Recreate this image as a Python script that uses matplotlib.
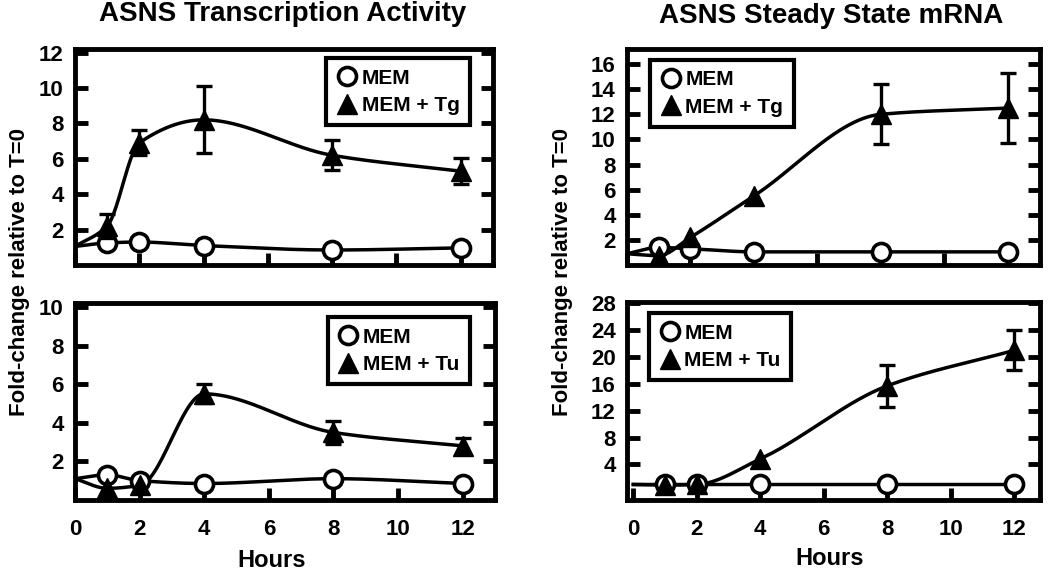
import numpy as np
import matplotlib.pyplot as plt
from matplotlib.lines import Line2D

plt.rcParams['font.family'] = ['Liberation Sans', 'DejaVu Sans']
plt.rcParams['font.weight'] = 'bold'

hours = [0, 1, 2, 4, 8, 12]

# transcription activity, Tg
tx_mem_tg = [1.05, 1.25, 1.3, 1.1, 0.85, 0.97]
tx_tg = [1.05, 2.2, 6.9, 8.2, 6.2, 5.3]
tx_tg_err = [0, 0.7, 0.7, 1.9, 0.85, 0.75]

# transcription activity, Tu
tx_mem_tu = [1.1, 1.3, 1.0, 0.85, 1.1, 0.85]
tx_tu = [1.1, 0.6, 0.75, 5.5, 3.5, 2.8]
tx_tu_err = [0, 0, 0, 0.5, 0.6, 0.4]

# steady-state mRNA, Tg
mr_mem_tg = [0.9, 1.4, 1.3, 1.05, 1.05, 1.05]
mr_tg = [0.9, 0.75, 2.2, 5.5, 12.0, 12.5]
mr_tg_err = [0, 0, 0, 0, 2.4, 2.8]

# steady-state mRNA, Tu
mr_mem_tu = [1.0, 1.0, 1.0, 1.0, 1.0, 1.0]
mr_tu = [1.0, 0.9, 1.0, 4.8, 15.7, 21.0]
mr_tu_err = [0, 0, 0, 0, 3.1, 3.0]


def pchip(x, y, n=300):
    # monotone cubic (Fritsch-Carlson) for the smooth connecting line
    x = np.asarray(x, float)
    y = np.asarray(y, float)
    h = np.diff(x)
    d = np.diff(y) / h
    m = np.zeros_like(y)
    for i in range(1, len(x) - 1):
        if d[i - 1] * d[i] > 0:
            w1 = 2 * h[i] + h[i - 1]
            w2 = h[i] + 2 * h[i - 1]
            m[i] = (w1 + w2) / (w1 / d[i - 1] + w2 / d[i])
    m[0] = d[0]
    m[-1] = d[-1]
    xs = np.linspace(x[0], x[-1], n)
    idx = np.clip(np.searchsorted(x, xs) - 1, 0, len(x) - 2)
    hh = h[idx]
    t = (xs - x[idx]) / hh
    h00 = 2 * t**3 - 3 * t**2 + 1
    h10 = t**3 - 2 * t**2 + t
    h01 = -2 * t**3 + 3 * t**2
    h11 = t**3 - t**2
    ys = h00 * y[idx] + h10 * hh * m[idx] + h01 * y[idx + 1] + h11 * hh * m[idx + 1]
    return xs, ys


def panel(ax, mem, trt, err, label, xlim, ylim, yticks, legend_loc, anchor, xlabels):
    for ser in (mem, trt):
        xs, ys = pchip(hours, ser)
        ax.plot(xs, ys, color='black', lw=2.5, zorder=2)
    ax.plot(hours[1:], mem[1:], 'o', ms=13, mfc='white', mec='black', mew=2.6,
            ls='none', zorder=3)
    e = np.array(err[1:])
    ax.errorbar(hours[1:], trt[1:], yerr=np.where(e > 0, e, np.nan), fmt='^', ms=14,
                color='black', ecolor='black', elinewidth=2.4, capsize=6,
                capthick=2.4, zorder=4)
    ax.set_xlim(*xlim)
    ax.set_ylim(*ylim)
    ax.set_xticks(range(0, 13, 2))
    ax.set_yticks(yticks)
    ax.tick_params(direction='in', length=9, width=3.5, labelsize=16,
                   left=True, right=True, top=False, bottom=True)
    ax.tick_params(axis='x', pad=14)
    ax.tick_params(axis='y', pad=8)
    if not xlabels:
        ax.tick_params(labelbottom=False)
    for s in ax.spines.values():
        s.set_linewidth(3.5)
    handles = [
        Line2D([], [], marker='o', ls='none', ms=13, mfc='white', mec='black', mew=2.6),
        Line2D([], [], marker='^', ls='none', ms=14, color='black'),
    ]
    leg = ax.legend(handles, ['MEM', label], loc=legend_loc, bbox_to_anchor=anchor,
                    fontsize=15, frameon=True, fancybox=False, framealpha=1,
                    handletextpad=0.2, handlelength=1.0, borderpad=0.5,
                    labelspacing=0.4, borderaxespad=0)
    leg.get_frame().set_edgecolor('black')
    leg.get_frame().set_linewidth(3)


fig = plt.figure(figsize=(10.5, 5.7), dpi=100)
ax_tl = fig.add_axes([0.0714, 0.535, 0.398, 0.379])
ax_bl = fig.add_axes([0.0714, 0.123, 0.400, 0.345])
ax_tr = fig.add_axes([0.597, 0.535, 0.393, 0.379])
ax_br = fig.add_axes([0.597, 0.123, 0.393, 0.347])

panel(ax_tl, tx_mem_tg, tx_tg, tx_tg_err, 'MEM + Tg', (0, 13), (0, 12.2),
      range(2, 13, 2), 'upper right', (0.945, 0.958), False)
panel(ax_bl, tx_mem_tu, tx_tu, tx_tu_err, 'MEM + Tu', (0, 13), (0, 10.2),
      range(2, 11, 2), 'upper right', (0.940, 0.929), True)
panel(ax_tr, mr_mem_tg, mr_tg, mr_tg_err, 'MEM + Tg', (0, 13), (0, 17.2),
      range(2, 17, 2), 'upper left', (0.056, 0.949), False)
panel(ax_br, mr_mem_tu, mr_tu, mr_tu_err, 'MEM + Tu', (-0.2, 12.8), (-1.3, 28.2),
      range(4, 29, 4), 'upper left', (0.053, 0.944), True)

fig.text(0.269, 0.976, 'ASNS Transcription Activity', ha='center', va='center',
         fontsize=20, fontweight='bold')
fig.text(0.792, 0.972, 'ASNS Steady State mRNA', ha='center', va='center',
         fontsize=20, fontweight='bold')
for x in (0.019, 0.536):
    fig.text(x, 0.523, 'Fold-change relative to T=0', rotation=90, ha='center',
             va='center', fontsize=16, fontweight='bold')
fig.text(0.259, 0.017, 'Hours', ha='center', va='center', fontsize=17, fontweight='bold')
fig.text(0.79, 0.021, 'Hours', ha='center', va='center', fontsize=17, fontweight='bold')

plt.savefig('out.png', dpi=100)
